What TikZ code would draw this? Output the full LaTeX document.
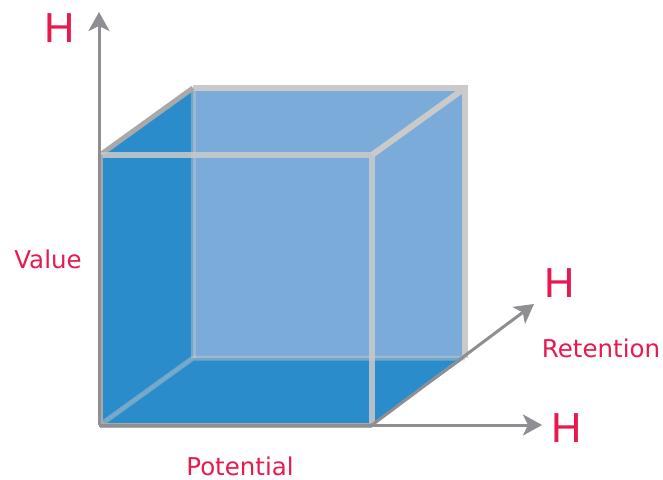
\documentclass[tikz,border=0pt]{standalone}
\usepackage{fontspec}
\setmainfont{Liberation Sans}
\newfontfamily\labelfont{DejaVu Sans}
\usetikzlibrary{arrows.meta}
\definecolor{cubedark}{HTML}{2B8CCB}
\definecolor{cubelight}{HTML}{7BABD9}
\definecolor{edgegray}{HTML}{CACACA}
\definecolor{rimgray}{HTML}{A9A9AB}
\definecolor{axisgray}{HTML}{8E8E93}
\definecolor{labelred}{HTML}{E8194F}
\begin{document}
\begin{tikzpicture}[x=1pt,y=-1pt,
  axis/.style={draw=axisgray, line width=3pt, -{Stealth[length=19pt,width=21pt,inset=5pt]}},
  frontedge/.style={draw=edgegray, line width=6pt, opacity=0.85},
  backedge/.style={draw=edgegray, line width=6pt},
  hiddenedge/.style={draw=edgegray, line width=5pt, opacity=0.45},
  bigH/.style={text=labelred, font=\fontsize{42}{42}\selectfont, inner sep=0pt},
  axname/.style={text=labelred, font=\labelfont\fontsize{24.5}{24.5}\selectfont, inner sep=0pt}]
\useasboundingbox (0,0) rectangle (663,479);
% cube corners: front face A B C D, back face E F G K
\coordinate (A) at (100,425);
\coordinate (B) at (372,425);
\coordinate (C) at (372,155);
\coordinate (D) at (100,155);
\coordinate (E) at (193,358);
\coordinate (F) at (465,358);
\coordinate (G) at (465,88);
\coordinate (K) at (193,88);
% faces
\fill[cubelight] (E) -- (F) -- (G) -- (K) -- cycle;
\fill[cubedark] (A) -- (D) -- (K) -- (E) -- cycle;
\fill[cubedark] (A) -- (B) -- (F) -- (E) -- cycle;
% hidden edges seen through the cube
\draw[hiddenedge] (A) -- (E) -- (F);
\draw[hiddenedge] (E) -- (K);
% visible back edges
\draw[backedge] (K) -- (G) -- (F);
\draw[backedge] (C) -- (G);
\draw[draw=rimgray, line width=5pt] (D) -- (K);
% front face
\draw[frontedge] (D) -- (C) -- (B);
\draw[draw=rimgray, line width=5pt] (A) -- (D);
\draw[draw=rimgray, line width=5pt] (A) -- (B);
% axes
\coordinate (O) at (99,425);
\coordinate (ytip) at (99,12);
\coordinate (xtip) at (542,425);
\coordinate (ztip) at (534,304);
\draw[axis] (O) -- (ytip);
\draw[axis] (O) -- (xtip);
\draw[axis] (B) -- (ztip);
% labels
\node[bigH] (hy) at (60,28) {H};
\node[bigH] (hz) at (560,283) {H};
\node[bigH] (hx) at (567,428) {H};
\node[axname] (value) at (48,259) {Value};
\node[axname] (potential) at (240,466) {Potential};
\node[axname] (retention) at (601,348) {Retention};
\end{tikzpicture}
\end{document}
